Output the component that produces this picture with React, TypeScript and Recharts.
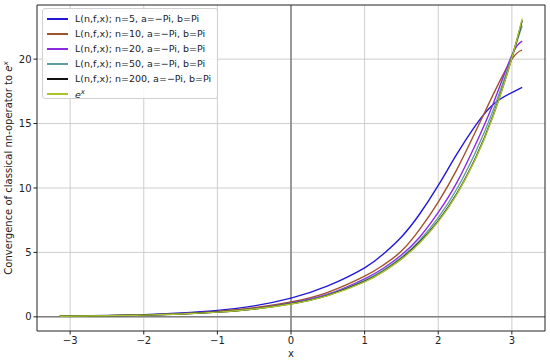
import React from "react";
import {
  LineChart,
  Line,
  XAxis,
  YAxis,
  CartesianGrid,
  Legend,
  ReferenceLine,
} from "recharts";

const xs = [-3.14, -2.5, -2, -1.5, -1, -0.5, 0, 0.5, 1, 1.25, 1.5, 1.75, 2, 2.25, 2.5, 2.75, 3, 3.14];

const n5 = [0.05, 0.1, 0.17, 0.3, 0.5, 0.85, 1.45, 2.4, 3.8, 4.85, 6.2, 8.0, 10.2, 12.6, 14.8, 16.5, 17.4, 17.8];
const n10 = [0.05, 0.09, 0.15, 0.25, 0.42, 0.7, 1.15, 1.9, 3.15, 4.0, 5.1, 6.8, 8.9, 11.4, 14.3, 17.3, 20.0, 20.7];
const n20 = [0.045, 0.085, 0.14, 0.235, 0.39, 0.64, 1.08, 1.75, 2.95, 3.75, 4.8, 6.2, 8.1, 10.4, 13.3, 16.6, 20.3, 21.4];
const n50 = [0.044, 0.083, 0.137, 0.228, 0.375, 0.62, 1.03, 1.7, 2.82, 3.6, 4.62, 5.95, 7.7, 9.9, 12.7, 16.1, 20.2, 22.6];
const n200 = [0.043, 0.082, 0.136, 0.224, 0.37, 0.61, 1.01, 1.67, 2.75, 3.52, 4.52, 5.8, 7.45, 9.55, 12.25, 15.7, 20.1, 23.0];
const expx = [0.043, 0.082, 0.135, 0.223, 0.368, 0.607, 1.0, 1.65, 2.72, 3.49, 4.48, 5.75, 7.39, 9.49, 12.18, 15.64, 20.09, 23.14];

const xTicks = [-3, -2, -1, 0, 1, 2, 3];
const yTicks = [0, 5, 10, 15, 20];

const series = [
  { key: "n5", name: "L(n,f,x); n=5, a=\u2212Pi, b=Pi", color: "#2318d8" },
  { key: "n10", name: "L(n,f,x); n=10, a=\u2212Pi, b=Pi", color: "#a0522d" },
  { key: "n20", name: "L(n,f,x); n=20, a=\u2212Pi, b=Pi", color: "#8a2be2" },
  { key: "n50", name: "L(n,f,x); n=50, a=\u2212Pi, b=Pi", color: "#5f9ea0" },
  { key: "n200", name: "L(n,f,x); n=200, a=\u2212Pi, b=Pi", color: "#111111" },
  { key: "expx", name: "e^x", color: "#a9c42c" },
];

const data = xs.map((x, i) => ({
  x,
  n5: n5[i],
  n10: n10[i],
  n20: n20[i],
  n50: n50[i],
  n200: n200[i],
  expx: expx[i],
}));

const FONT = "'DejaVu Sans', sans-serif";

const LegendBox = () => (
  <div
    style={{
      position: "absolute",
      left: 42,
      top: 8,
      width: 176,
      height: 91,
      boxSizing: "border-box",
      background: "rgba(255,255,255,0.85)",
      border: "1px solid #d0d0d0",
      borderRadius: 3,
      fontFamily: FONT,
      fontSize: 9.5,
      color: "#222",
      padding: "2px 0 0 4px",
    }}
  >
    {series.map((s) => (
      <div key={s.key} style={{ display: "flex", alignItems: "center", height: 15 }}>
        <span
          style={{
            display: "inline-block",
            width: 21,
            height: 2,
            background: s.color,
            marginRight: 7,
          }}
        />
        {s.key === "expx" ? (
          <span style={{ fontStyle: "italic" }}>
            e<sup style={{ fontSize: 7, verticalAlign: 4 }}>x</sup>
          </span>
        ) : (
          <span style={{ whiteSpace: "nowrap" }}>{s.name}</span>
        )}
      </div>
    ))}
  </div>
);

const YLabel = () => (
  <text
    x={12}
    y={168}
    transform="rotate(-90, 12, 168)"
    textAnchor="middle"
    fontFamily={FONT}
    fontSize={10}
    fill="#222"
  >
    Convergence of classical nn-operator to{" "}
    <tspan fontStyle="italic">e</tspan>
    <tspan fontStyle="italic" fontSize={7} dy={-4}>
      x
    </tspan>
  </text>
);

export default function App() {
  return (
    <div style={{ position: "absolute", left: 0, top: 0, width: 550, height: 362, background: "#fff" }}>
      <LineChart width={550} height={362} data={data} margin={{ top: 5, right: 5, left: 0, bottom: 0 }}>
        <CartesianGrid stroke="#c8c8c8" strokeWidth={0.9} horizontalValues={yTicks} verticalValues={xTicks} />
        <XAxis
          type="number"
          dataKey="x"
          domain={[-3.45, 3.45]}
          ticks={xTicks}
          allowDataOverflow
          height={31}
          stroke="#222"
          tickSize={3.5}
          tick={{ fontFamily: FONT, fontSize: 10, fill: "#222" }}
          tickFormatter={(v: number) => (v < 0 ? "\u2212" + Math.abs(v) : String(v))}
          label={{ value: "x", position: "insideBottom", offset: 5, fontFamily: FONT, fontSize: 10, fill: "#222" }}
        />
        <YAxis
          type="number"
          domain={[-1.1, 24.2]}
          ticks={yTicks}
          allowDataOverflow
          width={37}
          stroke="#222"
          tickSize={3.5}
          tick={{ fontFamily: FONT, fontSize: 10, fill: "#222" }}
        />
        <ReferenceLine x={0} stroke="#808080" strokeWidth={1.5} />
        <ReferenceLine y={0} stroke="#808080" strokeWidth={1.5} />
        <ReferenceLine x={3.45} stroke="#222" strokeWidth={1} />
        <ReferenceLine y={24.2} stroke="#222" strokeWidth={1} />
        {series.map((s) => (
          <Line
            key={s.key}
            type="natural"
            dataKey={s.key}
            name={s.name}
            stroke={s.color}
            strokeWidth={1.4}
            dot={false}
            isAnimationActive={false}
          />
        ))}
        <Legend content={() => null} />
        <YLabel />
      </LineChart>
      <LegendBox />
    </div>
  );
}
